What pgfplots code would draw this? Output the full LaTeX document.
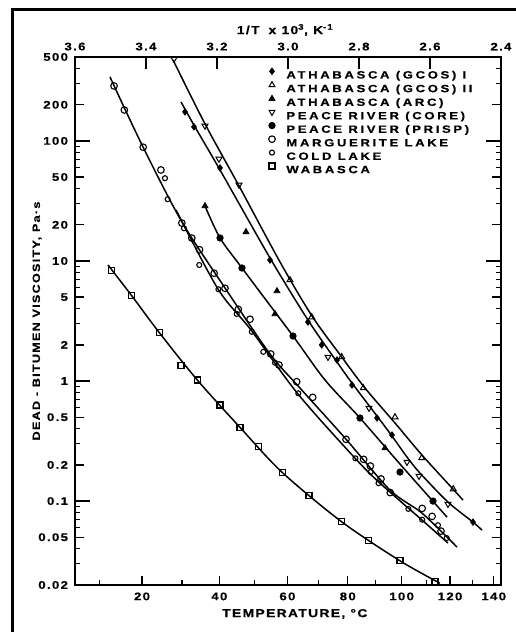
\documentclass[border=0pt]{standalone}
\usepackage{fontspec}
\usepackage{pgfplots}
\pgfplotsset{compat=1.18}
\newfontfamily\leroy[FakeStretch=1.2,LetterSpace=12,FakeBold=0.6]{Liberation Sans}
\newfontfamily\leroyleg[FakeStretch=1.25,LetterSpace=25,FakeBold=0.6]{Liberation Sans}
\newcommand{\tf}{\leroy\bfseries\fontsize{11bp}{13bp}\selectfont}
\newcommand{\xlf}{\leroy\bfseries\fontsize{11.5bp}{13bp}\selectfont}
\newcommand{\ylf}{\leroy\bfseries\fontsize{10.5bp}{13bp}\selectfont}
\newcommand{\lf}{\leroyleg\bfseries\fontsize{10.5bp}{12bp}\selectfont}
\begin{document}
\begin{tikzpicture}
\useasboundingbox (-75bp,-47bp) rectangle (441bp,585bp);
\draw[line width=3bp] (-62bp,-47bp) -- (-62bp,575bp) -- (441bp,575bp);
% top axis: 1/T
\begin{axis}[
  at={(0,0)}, anchor=south west,
  scale only axis, width=426bp, height=528bp,
  x dir=reverse, xmin=2.4, xmax=3.6, ymin=0, ymax=1,
  axis x line*=top, axis y line=none,
  axis line style={line width=1.5bp},
  tick align=inside, major tick length=12bp,
  xtick={2.4,2.6,2.8,3.0,3.2,3.4,3.6},
  xticklabels={2.4,2.6,2.8,3.0,3.2,3.4,3.6},
  tick style={line width=1.3bp, black},
  xticklabel style={font=\tf, yshift=3bp},
  xlabel={1/T\,\, x 10\textsuperscript{3}, K\textsuperscript{-1}},
  xlabel style={font=\xlf, at={(axis description cs:0.493,1)}, anchor=center, yshift=27bp},
]
\end{axis}
% main axis
\begin{axis}[
  at={(0,0)}, anchor=south west,
  scale only axis, width=426bp, height=528bp,
  x dir=reverse, xmin=2.4, xmax=3.6,
  ymode=log, ymin=0.02, ymax=500,
  axis line style={line width=1.5bp},
  tick align=inside, xtick pos=left, ytick pos=both,
  major tick length=9bp, minor tick length=5bp,
  tick style={line width=1.3bp, black},
  minor tick style={line width=1.1bp, black},
  xtick={3.41122,3.19336,3.00165,2.83166,2.67989,2.54356,2.42043},
  xticklabels={20,40,60,80,100,120,140},
  minor xtick={3.53170,3.29870,3.09454,2.91418,2.75368,2.60994,2.48047},
  ytick={0.02,0.05,0.1,0.2,0.5,1,2,5,10,20,50,100,200,500},
  yticklabels={0.02,0.05,0.1,0.2,0.5,1,2,5,10,20,50,100,200,500},
  minor ytick={0.03,0.04,0.06,0.07,0.08,0.09,0.3,0.4,0.6,0.7,0.8,0.9,3,4,6,7,8,9,30,40,60,70,80,90,300,400},
  extra y ticks={0.1,1,10,100},
  extra y tick labels={},
  extra y tick style={major tick length=15bp},
  xticklabel style={font=\tf, yshift=-4bp},
  yticklabel style={font=\tf, anchor=east, xshift=-3.5bp},
  xlabel={TEMPERATURE, °C},
  xlabel style={font=\xlf, at={(axis description cs:0.516,0)}, anchor=center, yshift=-29bp},
  ylabel={DEAD - BITUMEN VISCOSITY, Pa·s},
  ylabel style={font=\ylf, at={(axis description cs:-0.089,0.5)}, anchor=center},
  legend style={at={(axis description cs:0.4547,0.979)}, anchor=north west,
    draw=none, fill=none, inner sep=0pt, outer sep=0pt, row sep=0pt, column sep=8bp,
    font=\lf, nodes={text height=7.2bp, text depth=0pt, inner sep=3.1bp, anchor=west}},
  legend cell align=left,
  legend image code/.code={\draw[#1] plot coordinates {(3bp,3.6bp)};},
  every axis plot/.append style={line width=1.5bp, black},
]
% ---------- fitted lines ----------
\addplot[smooth, tension=0.5, forget plot] coordinates {
 (3.507,9.26) (3.4403,5.14) (3.3625,2.53) (3.2555,1.02) (3.1352,0.411) (3.016,0.173) (2.8487,0.0672) (2.6845,0.0318) (2.572,0.0207)};
\addplot[smooth, tension=0.5, forget plot] coordinates {
 (3.5014,341) (3.4085,89.1) (3.2986,21.1) (3.1775,5.96) (3.0507,1.68) (2.9662,0.874) (2.8394,0.335) (2.7127,0.1235) (2.6225,0.0794) (2.524,0.0414)};
\addplot[smooth, tension=0.5, forget plot] coordinates {
 (3.3155,26.6) (3.1972,5.84) (3.1042,2.66) (2.9718,0.779) (2.8113,0.228) (2.7409,0.141) (2.6225,0.0695) (2.5493,0.0447)};
\addplot[smooth, tension=0.5, forget plot] coordinates {
 (3.2338,28.7) (3.1915,15.55) (3.1296,8.74) (2.9859,2.37) (2.8958,1.02) (2.7972,0.492) (2.6845,0.2034) (2.5521,0.0736)};
\addplot[smooth, tension=0.5, forget plot] coordinates {
 (3.3239,473) (3.2338,138.6) (3.1380,42.2) (3.0225,9.81) (2.9324,3.48) (2.8507,1.616) (2.7831,0.874) (2.6986,0.447) (2.6225,0.2416) (2.5352,0.1259) (2.5070,0.1019)};
\addplot[smooth, tension=0.5, forget plot] coordinates {
 (3.3014,211) (3.2620,130.8) (3.1915,57.3) (3.0507,10.59) (2.9437,3.22) (2.8620,1.44) (2.8197,0.962) (2.7493,0.511) (2.7070,0.348) (2.6648,0.2326) (2.6282,0.1711) (2.5493,0.0981) (2.4789,0.0668) (2.4535,0.0573)};
% ---------- data points ----------
\addplot[only marks, mark=diamond*, mark size=3.2bp, mark options={fill=black, line width=0.8bp}] coordinates {
 (3.2901,174.5) (3.2648,130.8) (3.1915,59.6) (3.0507,10.19) (2.9437,3.10) (2.9051,2.0) (2.8620,1.496) (2.8197,0.926) (2.7493,0.492) (2.7070,0.355) (2.4789,0.0668)};
\addlegendentry{ATHABASCA (GCOS) I}
\addplot[only marks, mark=triangle, mark size=3.4bp, mark options={fill=white, line width=1bp}] coordinates {
 (2.9944,6.94) (2.9332,3.41) (2.8487,1.585) (2.7879,0.874) (2.6986,0.501) (2.6234,0.2283) (2.5344,0.1259)};
\addlegendentry{ATHABASCA (GCOS) II}
\addplot[only marks, mark=triangle*, mark size=3.4bp, mark options={fill=black, line width=0.8bp}] coordinates {
 (3.2338,28.7) (3.1183,17.45) (3.0310,5.62) (3.0366,3.62) (2.7268,0.2765)};
\addlegendentry{ATHABASCA (ARC)}
\addplot[only marks, mark=triangle, mark size=3.4bp, mark options={rotate=180, fill=white, line width=1bp}] coordinates {
 (3.3211,482) (3.2338,133.4) (3.1944,70.8) (3.1380,43.0) (2.8873,1.585) (2.7718,0.596) (2.6648,0.2113) (2.6310,0.1616) (2.5493,0.0944)};
\addlegendentry{PEACE RIVER (CORE)}
\addplot[only marks, mark=*, mark size=3.2bp, mark options={fill=black, line width=0.8bp}] coordinates {
 (3.1915,15.55) (3.1296,8.74) (2.9859,2.37) (2.7972,0.492) (2.6845,0.1744) (2.5915,0.100)};
\addlegendentry{PEACE RIVER (PRISP)}
\addplot[only marks, mark=o, mark size=3.3bp, mark options={fill=white, line width=1.1bp}] coordinates {
 (3.490,287) (3.461,181) (3.408,88.6) (3.358,57.3) (3.299,20.7) (3.271,15.5) (3.249,12.4) (3.208,7.90) (3.1775,5.92) (3.140,3.96) (3.107,3.27) (3.0487,1.68) (3.0254,1.36) (2.9755,0.987) (2.9304,0.731) (2.8366,0.327) (2.787,0.2226) (2.768,0.196) (2.738,0.153) (2.712,0.1177) (2.622,0.0869) (2.594,0.0746) (2.569,0.0562)};
\addlegendentry{MARGUERITE LAKE}
\addplot[only marks, mark=o, mark size=2.5bp, mark options={fill=white, line width=1.1bp}] coordinates {
 (3.3465,48.9) (3.339,32.7) (3.293,18.7) (3.250,9.26) (3.196,5.81) (3.1445,3.62) (3.102,2.57) (3.0696,1.75) (3.0366,1.42) (2.971,0.790) (2.810,0.227) (2.767,0.175) (2.745,0.141) (2.661,0.0861) (2.622,0.070) (2.5775,0.063) (2.553,0.0492)};
\addlegendentry{COLD LAKE}
\addplot[only marks, mark=square, mark size=3bp, mark options={fill=white, line width=1.1bp}] coordinates {
 (3.4966,8.30) (3.4403,5.14) (3.3625,2.53) (3.3014,1.34) (3.2555,1.02) (3.1915,0.631) (3.1352,0.411) (3.0836,0.287) (3.016,0.173) (2.9408,0.112) (2.8487,0.0672) (2.7738,0.0473) (2.6845,0.0318) (2.5859,0.0215)};
\addlegendentry{WABASCA}
\end{axis}
\end{tikzpicture}
\end{document}
